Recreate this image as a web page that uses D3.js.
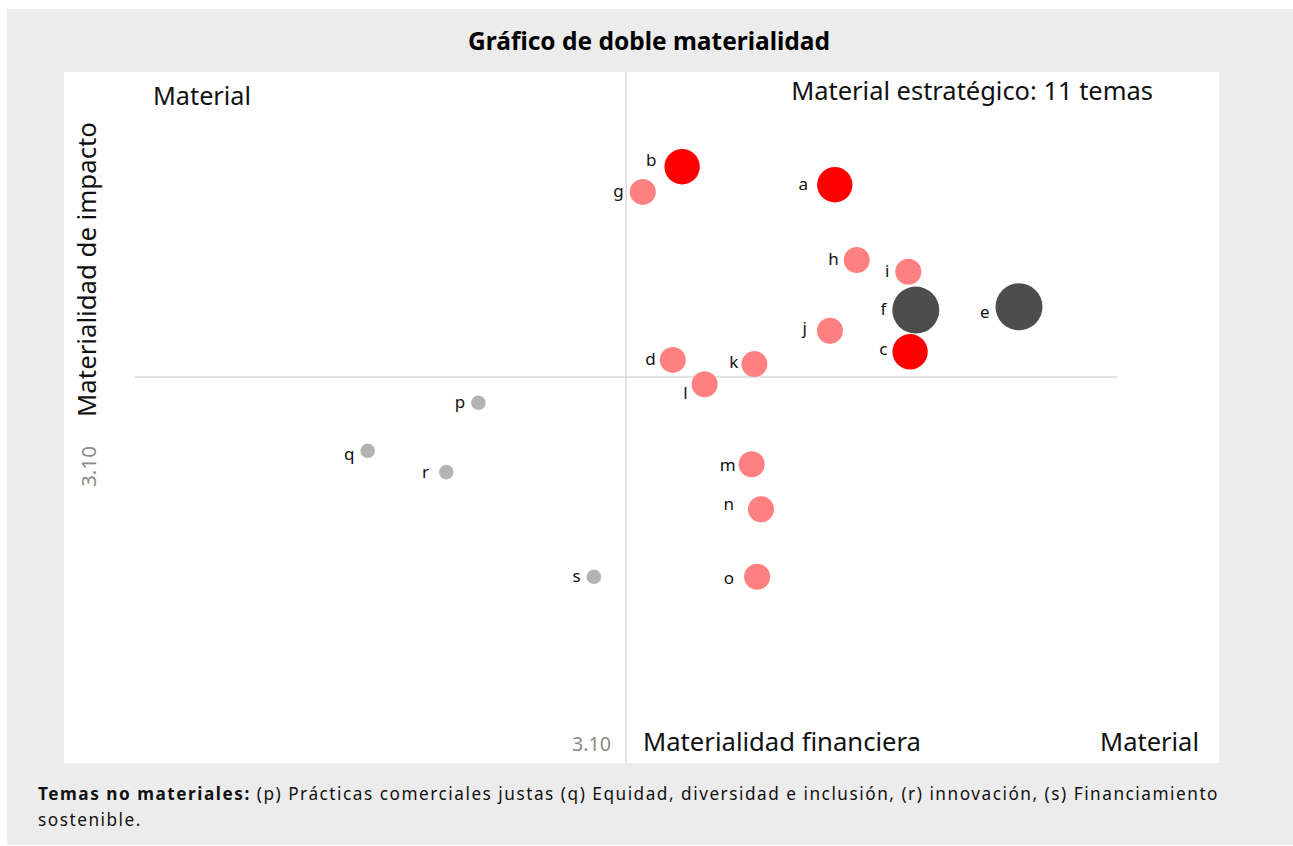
<!DOCTYPE html>
<html>
<head>
<meta charset="utf-8">
<script src="https://cdn.jsdelivr.net/npm/d3@7"></script>
<style>
  html, body { margin: 0; padding: 0; background: #ffffff; }
  svg { display: block; }
  text { font-family: "Noto Sans", "DejaVu Sans", sans-serif; }
</style>
</head>
<body>
<div id="chart"></div>
<script>
// ---------------- DATA ----------------
const topics     = ["a","b","c","d","e","f","g","h","i","j","k","l","m","n","o","p","q","r","s"];
const financial  = [3.796,3.287,4.047,3.256,4.410,4.066,3.156,3.869,4.041,3.780,3.528,3.362,3.519,3.550,3.537,2.608,2.239,2.501,2.993];
const impact     = [3.741,3.801,3.184,3.157,3.334,3.323,3.717,3.490,3.451,3.254,3.143,3.076,2.809,2.659,2.434,3.014,2.854,2.783,2.434];
const groups     = ["alta","alta","alta","media","critica","critica","media","media","media","media","media","media","media","media","media","no","no","no","no"];
const groupNames = ["critica","alta","media","no"];
const threshold  = 3.10;
const thresholdLabel = "3.10";
const title      = "Gráfico de doble materialidad";
const xTitle     = "Materialidad financiera";
const yTitle     = "Materialidad de impacto";
const cornerTopLeft  = "Material";
const cornerTopRight = "Material estratégico: 11 temas";
const cornerBottomRight = "Material";
const noteBold   = "Temas no materiales:";
const noteLine1  = " (p) Prácticas comerciales justas (q) Equidad, diversidad e inclusión, (r) innovación, (s) Financiamiento";
const noteLine2  = "sostenible.";

// ---------------- LAYOUT ----------------
const W = 1293, H = 846;
const svg = d3.select("#chart").append("svg").attr("width", W).attr("height", H);

svg.append("rect").attr("x", 7).attr("y", 9).attr("width", W - 7).attr("height", H - 10).attr("fill", "#ececec");
svg.append("rect").attr("x", 64).attr("y", 72).attr("width", 1155).attr("height", 691).attr("fill", "#ffffff");

const x = d3.scaleLinear().domain([1.2, 5.1]).range([56, 1226]);
const y = d3.scaleLinear().domain([2.0, 4.2]).range([707, 47]);

const color = d3.scaleOrdinal().domain(groupNames).range(["#4d4d4d", "#ff0000", "#ff8080", "#b3b3b3"]);
const radius = d3.scaleOrdinal().domain(groupNames).range([23.5, 17.7, 13, 7.3]);

// quadrant lines
svg.append("line")
  .attr("x1", x(threshold)).attr("x2", x(threshold))
  .attr("y1", 72).attr("y2", 763)
  .attr("stroke", "#c8c8c8").attr("stroke-width", 1);
svg.append("line")
  .attr("x1", 135).attr("x2", 1117)
  .attr("y1", y(threshold)).attr("y2", y(threshold))
  .attr("stroke", "#c8c8c8").attr("stroke-width", 1);

// helper: fit font size to a target width
function fit(sel, target) {
  const n = sel.node();
  const fs = parseFloat(sel.attr("font-size"));
  const w = n.getComputedTextLength();
  if (w > 0) sel.attr("font-size", (fs * target / w).toFixed(2));
  return sel;
}
// helper: fit with letter-spacing (keeps font size)
function fitSpacing(sel, target, chars) {
  const w = sel.node().getComputedTextLength();
  if (w > 0) sel.attr("letter-spacing", ((target - w) / chars).toFixed(3));
  return sel;
}

// title
fit(svg.append("text").text(title)
  .attr("x", 649).attr("y", 50).attr("text-anchor", "middle")
  .attr("font-size", 20).attr("font-weight", 700).attr("fill", "#000"), 362);

// corner labels
fit(svg.append("text").text(cornerTopLeft).attr("x", 153).attr("y", 105)
  .attr("font-size", 22).attr("fill", "#111"), 98);
fit(svg.append("text").text(cornerTopRight).attr("x", 1153).attr("y", 100).attr("text-anchor", "end")
  .attr("font-size", 22).attr("fill", "#111"), 362);
fit(svg.append("text").text(cornerBottomRight).attr("x", 1199).attr("y", 751).attr("text-anchor", "end")
  .attr("font-size", 22).attr("fill", "#111"), 99);
fit(svg.append("text").text(xTitle).attr("x", 643).attr("y", 751)
  .attr("font-size", 22).attr("fill", "#111"), 278);
fit(svg.append("text").text(thresholdLabel).attr("x", 611).attr("y", 751).attr("text-anchor", "end")
  .attr("font-size", 20).attr("fill", "#8a8a8a"), 39);

// y title rotated
fit(svg.append("text").text(yTitle)
  .attr("transform", "translate(96,417) rotate(-90)")
  .attr("font-size", 22).attr("fill", "#111"), 295);
fit(svg.append("text").text(thresholdLabel)
  .attr("transform", "translate(96,487) rotate(-90)")
  .attr("font-size", 20).attr("fill", "#8a8a8a"), 41);

// points
const pts = topics.map((t, i) => ({ t, fx: financial[i], iy: impact[i], g: groups[i] }));
svg.append("g").selectAll("circle").data(pts).join("circle")
  .attr("cx", d => x(d.fx)).attr("cy", d => y(d.iy))
  .attr("r", d => radius(d.g)).attr("fill", d => color(d.g));

// labels (placed to the left of each bubble, with small nudges)
const nudge = { a: [-3, 0], b: [-2, -6], e: [0, 6], l: [2, 10], n: [-8, -4], q: [0, 4], j: [-4, -2], o: [-4, 2], r: [-4, 1], h: [1, 0], k: [3, -1], m: [3, 2], d: [2, 0], c: [1, -2] };
svg.append("g").selectAll("text").data(pts).join("text")
  .text(d => d.t)
  .attr("x", d => x(d.fx) - radius(d.g) - 6 + (nudge[d.t] ? nudge[d.t][0] : 0))
  .attr("y", d => y(d.iy) + 5 + (nudge[d.t] ? nudge[d.t][1] : 0))
  .attr("text-anchor", "end")
  .attr("font-size", 17).attr("fill", "#111");

// footnote
const note = svg.append("text").attr("x", 38).attr("y", 800).attr("font-size", 17.2).attr("fill", "#111");
note.append("tspan").attr("font-weight", 700).text(noteBold);
note.append("tspan").text(noteLine1);
fitSpacing(note, 1181, (noteBold + noteLine1).length);
svg.append("text").attr("x", 38).attr("y", 826).attr("font-size", 17.2).attr("fill", "#111")
  .attr("letter-spacing", note.attr("letter-spacing")).text(noteLine2);
</script>
</body>
</html>
